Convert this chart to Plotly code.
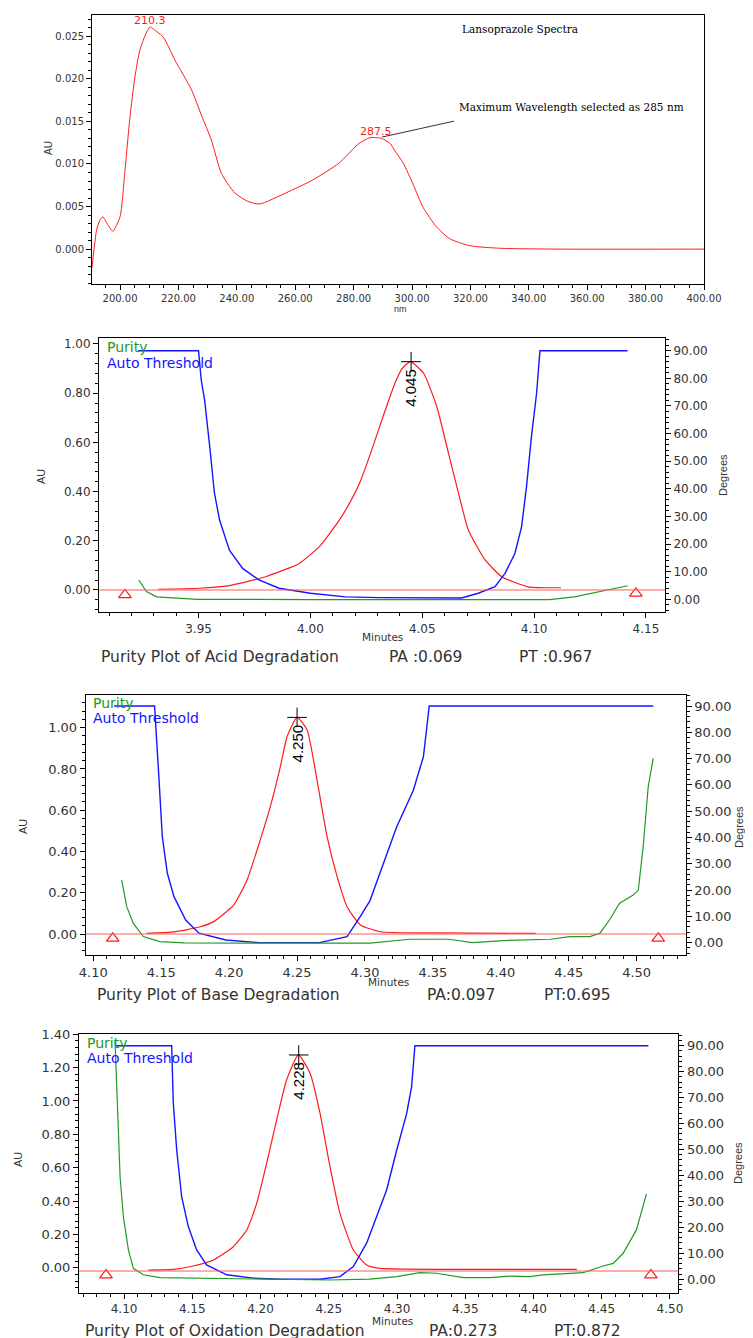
import plotly.graph_objects as go

W, H = 753, 1338
OFF = 8  # page body margin that shifts the figure in the browser

# ---------------- data ----------------
# Panel 1: Lansoprazole UV spectrum
spec_nm = [190.4, 192.0, 193.1, 194.1, 195.6, 197.5, 200.0, 201.6, 203.4, 205.1, 206.8,
           209.1, 210.3, 210.8, 214.8, 218.8, 224.5, 227.9, 231.3, 234.7, 239.3, 243.8,
           247.8, 256.8, 265.9, 275.0, 281.8, 285.6, 287.5, 289.6, 292.5, 294.2, 297.0,
           300.4, 303.8, 308.4, 313.0, 319.8, 330.0, 350.0, 400.0]
spec_au = [-0.0022, 0.0023, 0.0034, 0.0038, 0.0030, 0.0021, 0.0038, 0.0089, 0.0155, 0.0202, 0.0234,
           0.0255, 0.0261, 0.0260, 0.0249, 0.0222, 0.0187, 0.0157, 0.0128, 0.0089, 0.0066, 0.0056,
           0.0053, 0.0066, 0.0081, 0.0101, 0.0124, 0.0131, 0.0131, 0.0130, 0.0124, 0.0115, 0.0101,
           0.0076, 0.0049, 0.0026, 0.0012, 0.0004, 0.0001, 0.0000, 0.0000]
spec_peak_nm = [210.3, 287.5]
spec_peak_au = [0.0261, 0.0131]
spec_peak_labels = ["210.3", "287.5"]

# Panel 2: acid degradation
acid_rt = [3.932, 3.950, 3.965, 3.980, 3.995, 4.004, 4.013, 4.017, 4.022, 4.0261, 4.0306, 4.034,
           4.038, 4.041, 4.0447, 4.0506, 4.0565, 4.0617, 4.0662, 4.0706, 4.0781, 4.0855, 4.0973,
           4.112]
acid_au = [0.003, 0.007, 0.020, 0.054, 0.108, 0.176, 0.285, 0.345, 0.435, 0.535, 0.655, 0.745,
           0.845, 0.900, 0.928, 0.881, 0.745, 0.556, 0.393, 0.244, 0.122, 0.054, 0.013,
           0.009]
acid_thr_rt = [3.923, 3.950, 3.9512, 3.9527, 3.955, 3.9571, 3.9594, 3.9638, 3.9697, 3.977, 3.986,
               4.000, 4.0157, 4.0306, 4.0676, 4.075, 4.0825, 4.087, 4.0914, 4.0944, 4.0966, 4.0988,
               4.1011, 4.1026, 4.1418]
acid_thr_deg = [90, 90, 79.4, 72.2, 55.3, 38.4, 28.7, 17.8, 11.2, 7.0, 4.0,
                2.2, 0.9, 0.6, 0.5, 2.2, 4.6, 9.4, 16.6, 26.3, 40.8, 58.9,
                74.6, 90, 90]
acid_pur_rt = [3.9233, 3.9267, 3.9312, 3.9497, 4.000, 4.050, 4.107, 4.118, 4.1299, 4.1418]
acid_pur_deg = [7.0, 2.8, 0.9, 0.0, -0.1, -0.1, -0.1, 0.9, 2.8, 4.9]
acid_tri_rt = [3.9171, 4.1455]
acid_tri_au = [-0.020, -0.014]

# Panel 3: base degradation
base_rt = [4.1394, 4.159, 4.1788, 4.1886, 4.2033, 4.2132, 4.2229, 4.2303, 4.2377, 4.2426, 4.25,
           4.2574, 4.2647, 4.2721, 4.2795, 4.2868, 4.2966, 4.3113, 4.35, 4.4256]
base_au = [0.003, 0.010, 0.035, 0.060, 0.140, 0.262, 0.456, 0.617, 0.811, 0.956, 1.050,
           0.989, 0.746, 0.472, 0.278, 0.132, 0.044, 0.011, 0.005, 0.003]
base_thr_rt = [4.1153, 4.1451, 4.1484, 4.1508, 4.1545, 4.1594, 4.168, 4.1778, 4.1975, 4.222,
               4.2663, 4.2868, 4.2966, 4.3037, 4.3135, 4.3233, 4.3356, 4.343, 4.3473, 4.5122]
base_thr_deg = [90, 90, 61.9, 40.3, 26.4, 17.5, 8.6, 3.6, 1.0, 0.0,
                0.0, 2.3, 10.0, 16.0, 30.0, 44.0, 58.0, 70.7, 90, 90]
base_pur_rt = [4.1209, 4.1246, 4.1294, 4.1368, 4.149, 4.167, 4.25, 4.3037, 4.333, 4.362, 4.379,
               4.4018, 4.4362, 4.4509, 4.4656, 4.473, 4.480, 4.4874, 4.4975, 4.5012, 4.5048,
               4.5085, 4.5122]
base_pur_deg = [23.8, 13.7, 7.4, 2.3, 0.4, -0.1, -0.2, -0.2, 1.3, 1.3, 0.0,
                0.8, 1.3, 2.3, 2.3, 3.6, 8.6, 15.0, 18.1, 20.0, 36.5,
                59.3, 70.1]
base_tri_rt = [4.1143, 4.5159]
base_tri_au = [-0.021, -0.021]

# Panel 4: oxidation degradation
oxi_rt = [4.1178, 4.1361, 4.1507, 4.1654, 4.18, 4.1899, 4.1972, 4.2045, 4.2118, 4.2191, 4.2277,
          4.2363, 4.2436, 4.2509, 4.2582, 4.268, 4.2778, 4.2875, 4.35, 4.4318]
oxi_au = [-0.014, -0.010, 0.010, 0.046, 0.126, 0.226, 0.386, 0.626, 0.886, 1.126, 1.276,
          1.166, 0.926, 0.606, 0.326, 0.106, 0.016, -0.004, -0.010, -0.010]
oxi_thr_rt = [4.0939, 4.1349, 4.1361, 4.1386, 4.1422, 4.1471, 4.1532, 4.1605, 4.1752, 4.1947,
              4.2142, 4.2436, 4.2582, 4.268, 4.2778, 4.2851, 4.2924, 4.2998, 4.3071, 4.3107,
              4.3131, 4.4842]
oxi_thr_deg = [90, 90, 67.8, 49.8, 31.8, 20.3, 11.3, 5.5, 1.7, 0.4,
               0.0, 0.0, 1.0, 4.9, 14.0, 24.1, 34.4, 49.8, 63.9, 74.2,
               90, 90]
oxi_pur_rt = [4.0934, 4.0951, 4.0971, 4.0995, 4.1032, 4.1068, 4.1141, 4.1264, 4.2045, 4.25,
              4.2802, 4.2998, 4.3168, 4.329, 4.3485, 4.3681, 4.3827, 4.3974, 4.4071, 4.4364,
              4.451, 4.4584, 4.4657, 4.4754, 4.4828]
oxi_pur_deg = [92, 70.3, 39.5, 24.1, 11.3, 4.2, 1.7, 0.6, 0.0, -0.3,
               0.0, 1.0, 2.5, 2.3, 0.6, 0.6, 1.2, 1.0, 1.7, 2.5,
               5.1, 6.1, 10.0, 19.0, 32.9]
oxi_tri_rt = [4.0868, 4.486]
oxi_tri_au = [-0.044, -0.044]

peak_rt = [4.045, 4.250, 4.228]
peak_au = [0.928, 1.050, 1.276]
peak_labels = ["4.045", "4.250", "4.228"]
baseline_au = [0.0, 0.0, -0.02]
captions = ["Purity Plot of Acid Degradation", "Purity Plot of Base Degradation",
            "Purity Plot of Oxidation Degradation"]
pa_labels = ["PA :0.069", "PA:0.097", "PA:0.273"]
pt_labels = ["PT :0.967", "PT:0.695", "PT:0.872"]

RED = "#ff1a1a"
BLUE = "#1515ff"
GREEN = "#229922"
TXT = "#333333"


def dx(a, b):
    return [(a - OFF) / W, (b - OFF) / W]


def dy(top, bottom):
    return [1 - (bottom - OFF) / H, 1 - (top - OFF) / H]


def axis(dom, rng, dtick, minor, fmt, size, **kw):
    d = dict(domain=dom, range=rng, dtick=dtick, tickformat=fmt, automargin=False,
             showline=True, linecolor="black", linewidth=1,
             ticks="outside", ticklen=5, tickcolor="black",
             minor=dict(ticks="outside", ticklen=3, dtick=minor, tickcolor="black"),
             showgrid=False, zeroline=False,
             tickfont=dict(family="DejaVu Sans", size=size, color=TXT))
    d.update(kw)
    return d


fig = go.Figure()

# panel 1
fig.add_trace(go.Scatter(x=spec_nm, y=spec_au, xaxis="x", yaxis="y", mode="lines",
                         line=dict(color=RED, width=1, shape="spline", smoothing=0.6)))

panels = [
    (acid_rt, acid_au, acid_thr_rt, acid_thr_deg, acid_pur_rt, acid_pur_deg, acid_tri_rt, acid_tri_au),
    (base_rt, base_au, base_thr_rt, base_thr_deg, base_pur_rt, base_pur_deg, base_tri_rt, base_tri_au),
    (oxi_rt, oxi_au, oxi_thr_rt, oxi_thr_deg, oxi_pur_rt, oxi_pur_deg, oxi_tri_rt, oxi_tri_au),
]

for i, (rt, au, trt, tdeg, prt, pdeg, trx, try_) in enumerate(panels):
    xa = "x%d" % (i + 2)
    yl = "y%d" % (2 * i + 2)
    yr = "y%d" % (2 * i + 3)
    fig.add_trace(go.Scatter(x=trt, y=tdeg, xaxis=xa, yaxis=yr, mode="lines",
                             line=dict(color=BLUE, width=1.4)))
    fig.add_trace(go.Scatter(x=prt, y=pdeg, xaxis=xa, yaxis=yr, mode="lines",
                             line=dict(color=GREEN, width=1.2)))
    fig.add_trace(go.Scatter(x=rt, y=au, xaxis=xa, yaxis=yl, mode="lines",
                             line=dict(color=RED, width=1.2, shape="spline", smoothing=0.5)))
    fig.add_trace(go.Scatter(x=trx, y=try_, xaxis=xa, yaxis=yl, mode="markers",
                             marker=dict(symbol="triangle-up-open", size=11, color=RED,
                                         line=dict(width=1.2, color=RED))))
    fig.add_trace(go.Scatter(x=[peak_rt[i]], y=[peak_au[i]], xaxis=xa, yaxis=yl, mode="markers",
                             marker=dict(symbol="cross-thin-open", size=14, color="black",
                                         line=dict(width=1, color="black"))))

# axis domains (pixel boxes of each plot)
p1 = (92, 704, 15, 284)
boxes = [(99, 665, 338.3, 612.3), (85.7, 685.7, 695, 955), (79, 678.3, 1034.3, 1292.7)]
x_ranges = [[3.9055, 4.1585], [4.0944, 4.5361], [4.067, 4.5061]]
yl_ranges = [[-0.0907, 1.023], [-0.1018, 1.1585], [-0.15, 1.40]]
yr_ranges = [[-4.7, 94.5], [-4.7, 94.2], [-5.2, 94.4]]
tick_sizes = [12, 13, 13]
xtick_sizes = [12, 13, 12]

layout = dict(
    width=W, height=H, autosize=False, showlegend=False,
    margin=dict(l=0, r=0, t=0, b=0, pad=0),
    paper_bgcolor="white", plot_bgcolor="white",
    xaxis=axis(dx(p1[0], p1[1]), [190.4, 400], 20, 5, ".2f", 10, anchor="y", mirror=True),
    yaxis=axis(dy(p1[2], p1[3]), [-0.0041, 0.0275], 0.005, 0.001, ".3f", 10, anchor="x", mirror=True),
)
for i, (l, r, t, b) in enumerate(boxes):
    n = i + 2
    layout["xaxis%d" % n] = axis(dx(l, r), x_ranges[i], 0.05, 0.01, ".2f", xtick_sizes[i],
                                 anchor="y%d" % (2 * i + 2), mirror=True)
    layout["yaxis%d" % (2 * i + 2)] = axis(dy(t, b), yl_ranges[i], 0.2, 0.04, ".2f", tick_sizes[i],
                                           anchor="x%d" % n, mirror=True)
    layout["yaxis%d" % (2 * i + 3)] = axis(dy(t, b), yr_ranges[i], 10, 2, ".2f", tick_sizes[i],
                                           anchor="x%d" % n, overlaying="y%d" % (2 * i + 2),
                                           side="right")
fig.update_layout(**layout)

shapes = []
annotations = []


def txt(text, x, y, size=12, color=TXT, family="DejaVu Sans", xanchor="center", angle=0):
    annotations.append(dict(text=text, x=(x - OFF) / W, y=1 - (y - OFF) / H,
                            xref="paper", yref="paper",
                            showarrow=False, xanchor=xanchor, yanchor="middle", textangle=angle,
                            font=dict(family=family, size=size, color=color)))


# panel 1 annotations
for nm, a, lab in zip(spec_peak_nm, spec_peak_au, spec_peak_labels):
    annotations.append(dict(text=lab, x=nm, y=a, xref="x", yref="y", showarrow=False,
                            yanchor="bottom", yshift=-2,
                            font=dict(family="DejaVu Sans", size=11, color=RED)))
txt("Lansoprazole Spectra", 520, 29, size=10.5, color="black", family="DejaVu Serif")
txt("Maximum Wavelength selected as 285 nm", 571, 107, size=10.5, color="black", family="DejaVu Serif")
shapes.append(dict(type="line", xref="x", yref="y", x0=289.7, y0=0.01316, x1=314.4, y1=0.01503,
                   line=dict(color="#333333", width=1)))
txt("AU", 48, 148, size=10, angle=-90, family="Liberation Sans")
txt("nm", 400, 309, size=9, family="Liberation Sans")

# purity panels annotations
au_pos = [(41, 477), (23, 827), (18, 1160)]
deg_pos = [(723, 475), (739, 827), (738, 1163)]
min_pos = [(382, 637), (388, 982), (392, 1321)]
leg_pos = [(105, 347, 363), (90.7, 703, 718.3), (85, 1043.3, 1058.3)]
cap_pos = [(99, 657, 386.7, 516.7), (95, 995, 425, 541.7), (83, 1331, 426.7, 551.7)]

for i in range(3):
    xa = "x%d" % (i + 2)
    yl = "y%d" % (2 * i + 2)
    shapes.append(dict(type="line", xref=xa + " domain", yref=yl, x0=0, x1=1,
                       y0=baseline_au[i], y1=baseline_au[i],
                       line=dict(color="#ff5a5a", width=1)))
    annotations.append(dict(text=peak_labels[i], x=peak_rt[i], y=peak_au[i], xref=xa, yref=yl,
                            showarrow=False, textangle=-90, xanchor="center", yanchor="top",
                            yshift=-5,
                            font=dict(family="Liberation Sans", size=15, color="black")))
    txt("AU", au_pos[i][0], au_pos[i][1], size=11, angle=-90, family="Liberation Sans")
    txt("Degrees", deg_pos[i][0], deg_pos[i][1], size=11, angle=-90, family="Liberation Sans")
    txt("Minutes", min_pos[i][0], min_pos[i][1], size=10.5)
    txt("Purity", leg_pos[i][0], leg_pos[i][1], size=14, color=GREEN, xanchor="left")
    txt("Auto Threshold", leg_pos[i][0], leg_pos[i][2], size=14, color=BLUE, xanchor="left")
    cx, cy, pax, ptx = cap_pos[i]
    txt(captions[i], cx, cy, size=15.5, xanchor="left")
    txt(pa_labels[i], pax, cy, size=15.5, xanchor="left")
    txt(pt_labels[i], ptx, cy, size=15.5, xanchor="left")

fig.update_layout(shapes=shapes, annotations=annotations)
fig.write_html("out.html")
